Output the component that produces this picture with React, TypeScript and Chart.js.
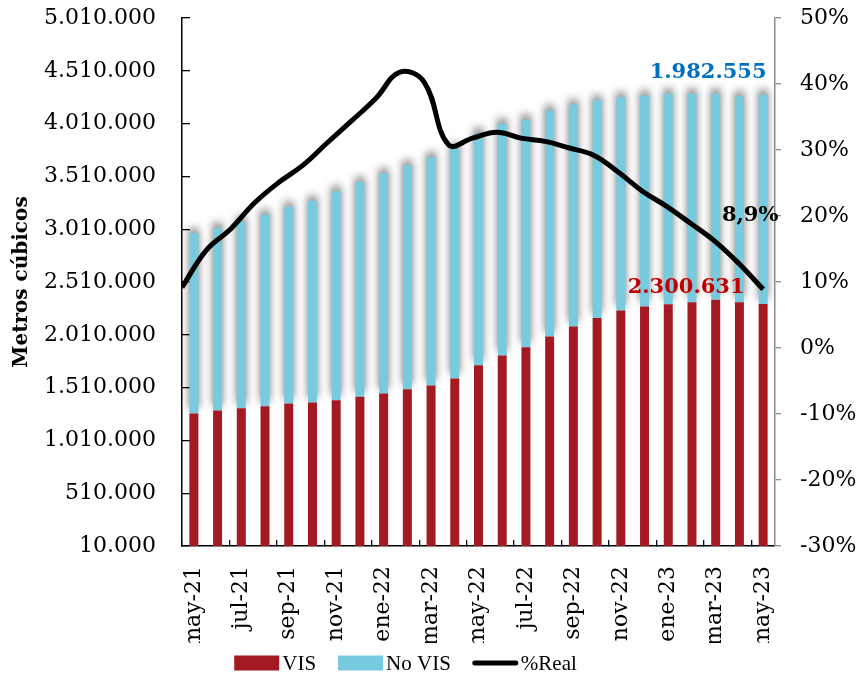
import React, { useEffect, useRef } from 'react';
import { Chart, registerables } from 'chart.js';

Chart.register(...registerables);

const MONTHS = [
  'may-21', 'jun-21', 'jul-21', 'ago-21', 'sep-21', 'oct-21', 'nov-21', 'dic-21',
  'ene-22', 'feb-22', 'mar-22', 'abr-22', 'may-22', 'jun-22', 'jul-22', 'ago-22',
  'sep-22', 'oct-22', 'nov-22', 'dic-22', 'ene-23', 'feb-23', 'mar-23', 'abr-23', 'may-23',
];

const VIS = [
  1265000, 1293000, 1315000, 1334000, 1359000, 1369000, 1390000, 1423000,
  1454000, 1494000, 1529000, 1595000, 1721000, 1815000, 1891000, 1995000,
  2089000, 2168000, 2240000, 2278000, 2300000, 2319000, 2341000, 2319000, 2300631,
];

const NO_VIS = [
  1706000, 1731000, 1769000, 1812000, 1863000, 1907000, 1980000, 2035000,
  2083000, 2122000, 2162000, 2181000, 2199000, 2194000, 2159000, 2140000,
  2102000, 2061000, 2020000, 1998000, 1992000, 1973000, 1951000, 1951000, 1982555,
];

const REAL_PCT = [
  9.2, 14.8, 18.0, 22.0, 25.1, 27.7, 31.1, 34.4, 37.8, 41.8, 40.3, 30.8, 31.8,
  32.7, 31.8, 31.3, 30.3, 29.2, 26.7, 23.8, 21.5, 18.9, 16.2, 12.8, 8.9,
];

const SERIES_NAMES = ['VIS', 'No VIS', '%Real'];
const COLORS = ['#A31A22', '#78CADF', '#000000'];

const Y_MIN = 10000;
const Y_MAX = 5010000;
const Y_STEP = 500000;
const P_MIN = -30;
const P_MAX = 50;
const P_STEP = 10;

const FONT = '"DejaVu Serif", serif';
const LEGEND_FONT = '21px "Liberation Serif", serif';

const fmtNum = (v: number) => String(Math.round(v)).replace(/\B(?=(\d{3})+(?!\d))/g, '.');
const fmtPct = (v: number) => v.toFixed(1).replace('.', ',') + '%';

const shadowPlugin = {
  id: 'barShadow',
  beforeDatasetDraw(chart: any, args: any) {
    if (args.index !== 1) return;
    const ctx = chart.ctx;
    ctx.save();
    ctx.shadowColor = 'rgba(0,0,0,0.55)';
    ctx.shadowBlur = 8;
    ctx.shadowOffsetY = -5;
  },
  afterDatasetDraw(chart: any, args: any) {
    if (args.index !== 1) return;
    chart.ctx.restore();
  },
};

const labelPlugin = {
  id: 'endLabels',
  afterDatasetsDraw(chart: any) {
    const ctx = chart.ctx;
    const last = VIS.length - 1;
    const vb = chart.getDatasetMeta(0).data[last];
    const nb = chart.getDatasetMeta(1).data[last];
    const lp = chart.getDatasetMeta(2).data[last];
    ctx.save();
    ctx.font = 'bold 21px ' + FONT;
    ctx.textAlign = 'center';
    ctx.textBaseline = 'middle';
    ctx.fillStyle = '#0070C0';
    ctx.fillText(fmtNum(NO_VIS[last]), nb.x - 55, nb.y - 22);
    ctx.fillStyle = '#C00000';
    ctx.fillText(fmtNum(VIS[last]), vb.x - 77, vb.y - 17);
    ctx.fillStyle = '#000000';
    ctx.fillText(fmtPct(REAL_PCT[last]), lp.x - 13, lp.y - 74);
    ctx.restore();
  },
};

const legendPlugin = {
  id: 'customLegend',
  afterDraw(chart: any) {
    const ctx = chart.ctx;
    const boxW = 45;
    const boxH = 15;
    const textGap = 3;
    const itemGap = 22;
    const cy = 663;
    ctx.save();
    ctx.font = LEGEND_FONT;
    const widths = SERIES_NAMES.map((n) => boxW + textGap + ctx.measureText(n).width);
    const total = widths.reduce((a, b) => a + b, 0) + itemGap * (SERIES_NAMES.length - 1);
    let x = chart.width / 2 - 25 - total / 2;
    ctx.textBaseline = 'middle';
    ctx.textAlign = 'left';
    SERIES_NAMES.forEach((name, i) => {
      if (i < 2) {
        ctx.fillStyle = COLORS[i];
        ctx.fillRect(x, cy - boxH / 2, boxW, boxH);
      } else {
        ctx.strokeStyle = COLORS[i];
        ctx.lineWidth = 5;
        ctx.lineCap = 'round';
        ctx.beginPath();
        ctx.moveTo(x + 2, cy);
        ctx.lineTo(x + boxW - 2, cy);
        ctx.stroke();
      }
      ctx.fillStyle = '#000';
      ctx.fillText(name, x + boxW + textGap, cy + 1);
      x += widths[i] + itemGap;
    });
    ctx.restore();
  },
};

export default function App() {
  const ref = useRef<HTMLCanvasElement>(null);

  useEffect(() => {
    if (!ref.current) return;
    const chart = new Chart(ref.current, {
      type: 'bar',
      data: {
        labels: MONTHS,
        datasets: [
          {
            label: SERIES_NAMES[0],
            data: VIS,
            backgroundColor: COLORS[0],
            barPercentage: 0.38,
            categoryPercentage: 1,
            maxBarThickness: 9,
            grouped: false,
            xAxisID: 'x',
            yAxisID: 'y',
          },
          {
            label: SERIES_NAMES[1],
            data: NO_VIS,
            backgroundColor: COLORS[1],
            barPercentage: 0.38,
            categoryPercentage: 1,
            maxBarThickness: 9,
            grouped: false,
            xAxisID: 'x',
            yAxisID: 'y',
          },
          {
            type: 'line',
            label: SERIES_NAMES[2],
            data: REAL_PCT.map((v, i) => ({ x: i, y: v })),
            borderColor: COLORS[2],
            backgroundColor: COLORS[2],
            borderWidth: 5,
            pointRadius: 0,
            tension: 0.4,
            xAxisID: 'x2',
            yAxisID: 'y1',
            order: -1,
          } as any,
        ],
      },
      options: {
        responsive: false,
        animation: false,
        layout: { padding: { top: 18, left: 0, right: 0, bottom: 35 } },
        plugins: {
          tooltip: { enabled: false },
          legend: { display: false },
        },
        scales: {
          x: {
            type: 'category',
            stacked: true,
            offset: true,
            grid: {
              display: true,
              drawOnChartArea: false,
              drawTicks: true,
              tickLength: -6,
              offset: true,
              lineWidth: 1.3,
              color: (c: any) => (c.index % 2 === 0 ? '#000000' : 'rgba(0,0,0,0)'),
            },
            border: { display: true, color: '#000000', width: 1.5 },
            ticks: {
              autoSkip: false,
              maxRotation: 90,
              minRotation: 90,
              padding: 26,
              color: '#000',
              font: { family: FONT, size: 22 },
              callback: (v: any, i: number) => (i % 2 === 0 ? MONTHS[i] : ''),
            },
            afterFit: (s: any) => {
              s.height = 97;
            },
          },
          x2: {
            type: 'linear',
            display: false,
            offset: false,
            min: 0,
            max: 24.49,
            grid: { offset: false },
          },
          y: {
            type: 'linear',
            position: 'left',
            stacked: true,
            min: Y_MIN,
            max: Y_MAX,
            ticks: {
              stepSize: Y_STEP,
              padding: 34,
              color: '#000',
              font: { family: FONT, size: 22 },
              callback: (v: any) => fmtNum(Number(v)),
            },
            grid: {
              display: true,
              drawOnChartArea: false,
              drawTicks: true,
              tickLength: -8,
              color: '#000',
              lineWidth: 1.3,
            },
            border: { display: true, color: '#000000', width: 1.5 },
            title: {
              display: true,
              text: 'Metros cúbicos',
              color: '#000',
              font: { family: FONT, size: 20, weight: 'bold' },
              padding: { top: 10, bottom: 0 },
            },
            afterFit: (s: any) => {
              s.width = 182;
              s.paddingTop = 0;
              s.paddingBottom = 0;
            },
          },
          y1: {
            type: 'linear',
            position: 'right',
            min: P_MIN,
            max: P_MAX,
            ticks: {
              stepSize: P_STEP,
              padding: 19,
              color: '#000',
              font: { family: FONT, size: 22 },
              callback: (v: any) => Math.round(Number(v)) + '%',
            },
            grid: {
              display: true,
              drawOnChartArea: false,
              drawTicks: true,
              tickLength: 6,
              color: '#8C8C8C',
              lineWidth: 1.3,
            },
            border: { display: true, color: '#8C8C8C', width: 1.5 },
            afterFit: (s: any) => {
              s.width = 86;
              s.paddingTop = 0;
              s.paddingBottom = 0;
            },
          },
        },
      } as any,
      plugins: [shadowPlugin, labelPlugin, legendPlugin],
    });
    return () => chart.destroy();
  }, []);

  return (
    <div style={{ position: 'absolute', left: 0, top: 0, width: 861, height: 678, background: '#fff' }}>
      <canvas ref={ref} width={861} height={678} style={{ display: 'block' }} />
    </div>
  );
}
